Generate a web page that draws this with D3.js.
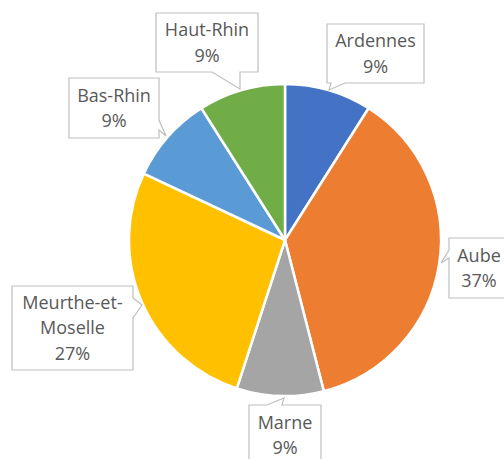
<!DOCTYPE html>
<html>
<head>
<meta charset="utf-8">
<script src="https://cdn.jsdelivr.net/npm/d3@7"></script>
<style>
  body { margin: 0; background: #fff; }
  svg { display: block; }
  text { font-family: "Open Sans", "Noto Sans", sans-serif; fill: #595959; }
</style>
</head>
<body>
<svg width="504" height="459"></svg>
<script>
var departements = ["Ardennes", "Aube", "Marne", "Meurthe-et-Moselle", "Bas-Rhin", "Haut-Rhin"];
var parts = [9, 37, 9, 27, 9, 9];
var couleurs = ["#4472C4", "#ED7D31", "#A5A5A5", "#FFC000", "#5B9BD5", "#70AD47"];
var lignes = [["Ardennes"], ["Aube"], ["Marne"], ["Meurthe-et-", "Moselle"], ["Bas-Rhin"], ["Haut-Rhin"]];

// callout boxes: box, side the pointer leaves from, base of pointer, tip
var bulles = [
  { x: 327, y: 24, w: 97, h: 59, side: "bottom", a: 331, b: 345, tip: [329, 90] },
  { x: 449, y: 238, w: 60, h: 60, side: "left", a: 250, b: 258, tip: [441, 263] },
  { x: 249, y: 405, w: 72, h: 60, side: "top", a: 267, b: 282, tip: [284, 398] },
  { x: 12, y: 286, w: 121, h: 84, side: "right", a: 298, b: 318, tip: [142, 305] },
  { x: 69, y: 78, w: 90, h: 60, side: "right", a: 120, b: 130, tip: [166, 136] },
  { x: 156, y: 13, w: 102, h: 59, side: "bottom", a: 212, b: 240, tip: [240, 89] }
];

var cx = 285, cy = 240, R = 156;

var svg = d3.select("svg");

var pie = d3.pie().sort(null).value(function(d) { return d; });
var arc = d3.arc().innerRadius(0).outerRadius(R);

var g = svg.append("g").attr("transform", "translate(" + cx + "," + cy + ")");
g.selectAll("path")
  .data(pie(parts))
  .enter().append("path")
  .attr("d", arc)
  .attr("fill", function(d, i) { return couleurs[i]; })
  .attr("stroke", "#fff")
  .attr("stroke-width", 2.5)
  .attr("stroke-linejoin", "round");

function bullePath(c) {
  var x0 = c.x, y0 = c.y, x1 = c.x + c.w, y1 = c.y + c.h;
  var p = d3.path();
  p.moveTo(x0, y0);
  if (c.side == "top") { p.lineTo(c.a, y0); p.lineTo(c.tip[0], c.tip[1]); p.lineTo(c.b, y0); }
  p.lineTo(x1, y0);
  if (c.side == "right") { p.lineTo(x1, c.a); p.lineTo(c.tip[0], c.tip[1]); p.lineTo(x1, c.b); }
  p.lineTo(x1, y1);
  if (c.side == "bottom") { p.lineTo(c.b, y1); p.lineTo(c.tip[0], c.tip[1]); p.lineTo(c.a, y1); }
  p.lineTo(x0, y1);
  if (c.side == "left") { p.lineTo(x0, c.b); p.lineTo(c.tip[0], c.tip[1]); p.lineTo(x0, c.a); }
  p.closePath();
  return p.toString();
}

var labels = svg.selectAll("g.label")
  .data(bulles)
  .enter().append("g")
  .attr("class", "label");

labels.append("path")
  .attr("d", bullePath)
  .attr("fill", "#fff")
  .attr("stroke", "#BFBFBF")
  .attr("stroke-width", 1.2);

labels.each(function(c, i) {
  var txt = lignes[i].concat([parts[i] + "%"]);
  var lh = 25.5;
  var mid = c.y + c.h / 2;
  var top = mid - (txt.length - 1) * lh / 2;
  d3.select(this).selectAll("text")
    .data(txt)
    .enter().append("text")
    .attr("x", c.x + c.w / 2)
    .attr("y", function(t, j) { return top + j * lh; })
    .attr("dy", "0.35em")
    .attr("text-anchor", "middle")
    .attr("font-size", 18)
    .text(function(t) { return t; });
});
</script>
</body>
</html>
